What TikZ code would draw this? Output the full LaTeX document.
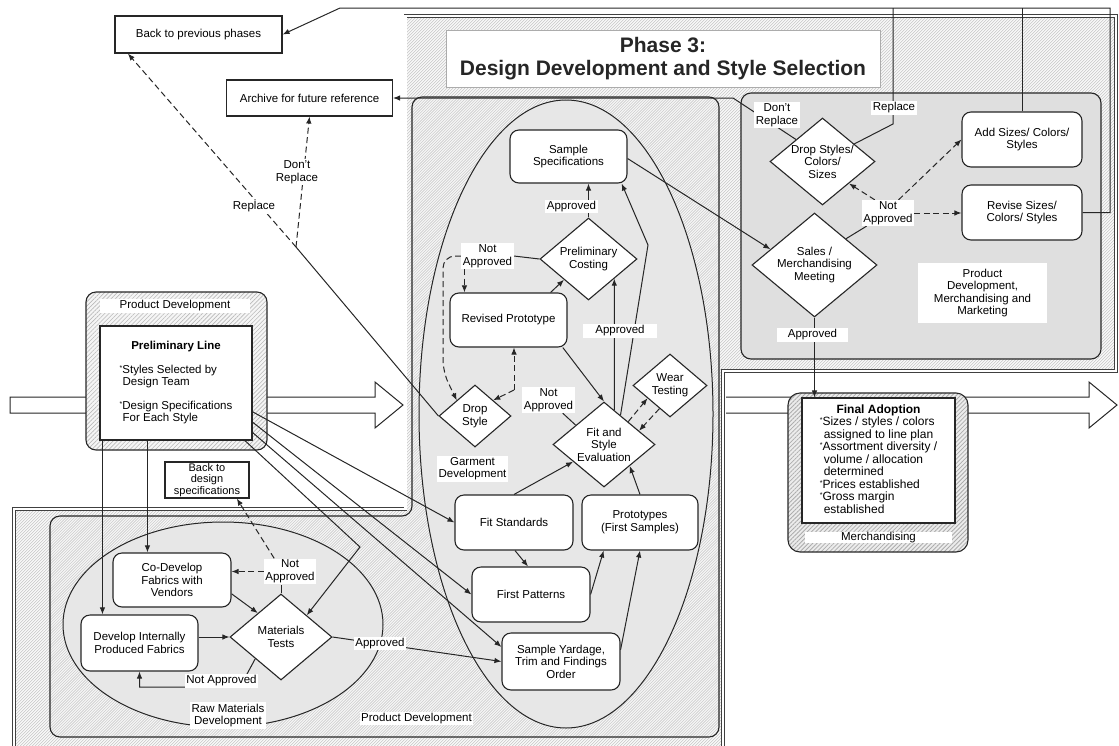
\documentclass[tikz,border=0pt]{standalone}
\usepackage{fontspec}
\setmainfont{Liberation Sans}
\usetikzlibrary{shapes.geometric,arrows.meta,calc,patterns.meta}
\pgfdeclarelayer{bg}
\pgfdeclarelayer{edges}
\pgfsetlayers{bg,edges,main}
\newcommand\lblfont{\fontsize{11.5}{12.6}\selectfont}
\newcommand\starmark{\raisebox{0.45ex}{\fontsize{7}{7}\selectfont *}}
% outlines of the two large areas
\newcommand\phaseoutline{(14,509) -- (405.5,509) -- (405.5,16) -- (1116,16) -- (1116,371)
    -- (723,371) -- (723,760) -- (14,760) -- cycle}
\newcommand\pdoutline{(50,516) -- (412,516) -- (412,97) -- (719,97) -- (719,737) -- (50,737) -- cycle}

\tikzset{
  conn/.style={line width=1pt, draw=black!85},
  arr/.style={conn, -{Latex[length=7pt,width=5.5pt]}},
  dsh/.style={dash pattern=on 6pt off 3.5pt},
  sqbox/.style={draw=black!85, line width=1.1pt, fill=white, align=center, inner sep=1pt, font=\lblfont},
  rbox/.style={sqbox, rounded corners=9pt},
  dia/.style={diamond, draw=black!85, line width=1.1pt, fill=white, inner sep=0pt},
  dtext/.style={align=center, font=\lblfont, inner sep=0pt},
  tag/.style={fill=white, inner sep=1.5pt, align=center, font=\lblfont},
  region/.style={draw=black!85, line width=1.1pt, rounded corners=10pt},
}

\begin{document}
\begin{tikzpicture}[x=1pt, y=-1pt]
\useasboundingbox (0,0) rectangle (1119,745);

% ---------------- background regions ----------------
\begin{pgfonlayer}{bg}
  % phase 3 frame with fine hatching
  \fill[gray!3] \phaseoutline;
  \begin{scope}
    \clip \phaseoutline;
    \foreach \k in {-255,...,375}
      \draw[gray!40, line width=0.7pt] (\k*3,760) -- (\k*3+760,0);
  \end{scope}
  \draw[draw=black!75, line width=0.6pt, double=white, double distance=2.2pt] \phaseoutline;
  % product development area (garment + raw materials)
  \fill[gray!6, rounded corners=10pt] \pdoutline;
  \begin{scope}
    \clip[rounded corners=10pt] \pdoutline;
    \foreach \k in {-120,...,260}
      \draw[gray!40, line width=0.6pt] (\k*2.8,760) -- (\k*2.8+760,0);
  \end{scope}
  \draw[region] \pdoutline;
  % garment development ellipse
  \draw[line width=1pt, draw=black!85, fill=gray!19] (566,414) ellipse [x radius=147, y radius=314];
  % raw materials ellipse
  \draw[line width=1pt, draw=black!85, fill=gray!19] (223,624.5) ellipse [x radius=160, y radius=102.5];
  % merchandising / marketing panel
  \draw[region, fill=gray!25] (741,93) rectangle (1101,359);
  % main flow arrows
  \draw[line width=1pt, draw=black!85, fill=white]
    (10,397) -- (375,397) -- (375,382) -- (403,405) -- (375,428) -- (375,413) -- (10,413) -- cycle;
  \draw[line width=1pt, draw=black!85, fill=white]
    (726,397) -- (1089,397) -- (1089,382) -- (1117,405) -- (1089,428) -- (1089,413) -- (726,413);
  % preliminary line frame
  \draw[region, preaction={fill=gray!8},
        preaction={pattern={Lines[angle=45,distance=3pt,line width=0.6pt]}, pattern color=gray!55}]
    (86,292) rectangle (267,450);
  % final adoption frame
  \draw[region, rounded corners=12pt, preaction={fill=gray!15},
        preaction={pattern={Lines[angle=45,distance=3pt,line width=0.8pt]}, pattern color=gray!65}]
    (788,393) rectangle (968,552);
\end{pgfonlayer}

% ---------------- title ----------------
\node[draw=gray!65, line width=0.8pt, fill=white, minimum width=434pt, minimum height=57pt,
      align=center, font={\fontsize{21}{22.5}\selectfont\bfseries}, text=black!85]
  (title) at (663,58.5) {Phase 3:\\Design Development and Style Selection};

% ---------------- boxes ----------------
\node[sqbox, minimum width=167pt, minimum height=37pt] (backprev) at (198.5,34.5) {Back to previous phases};
\node[sqbox, minimum width=166pt, minimum height=36pt] (archive) at (309.5,98) {Archive for future reference};
\node[sqbox, minimum width=84pt, minimum height=36pt, font={\fontsize{11}{11.3}\selectfont}]
  (backdesign) at (207,480) {Back to\\design\\specifications};

\node[sqbox, minimum width=152pt, minimum height=114pt, inner sep=0pt, font={\fontsize{11.5}{12.2}\selectfont}]
  (prelim) at (176,383)
  {\begin{tabular}{@{}l@{}}\multicolumn{1}{c}{\bfseries Preliminary Line}\\[12pt]
   \starmark Styles Selected by\\ \hspace{3pt}Design Team\\[12pt]
   \starmark Design Specifications\\ \hspace{3pt}For Each Style\end{tabular}};

\node[rbox, minimum width=117pt, minimum height=53pt] (samplespec) at (568.5,156.5) {Sample\\Specifications};
\node[rbox, minimum width=117pt, minimum height=54pt] (revproto) at (508.5,320) {Revised Prototype};
\node[rbox, minimum width=118pt, minimum height=55pt] (fitstd) at (514,522.5) {Fit Standards};
\node[rbox, minimum width=116pt, minimum height=55pt] (proto) at (640,522.5) {Prototypes\\(First Samples)};
\node[rbox, minimum width=118pt, minimum height=55pt] (firstpat) at (531,594.5) {First Patterns};
\node[rbox, minimum width=118pt, minimum height=57pt] (yardage) at (561,661.5) {Sample Yardage,\\Trim and Findings\\Order};
\node[rbox, minimum width=118pt, minimum height=54pt] (codev) at (172,580) {Co-Develop\\Fabrics with\\Vendors};
\node[rbox, minimum width=117pt, minimum height=56pt] (devint) at (139.5,643) {Develop Internally\\Produced Fabrics};
\node[rbox, minimum width=120pt, minimum height=55pt] (addsz) at (1022,139.5) {Add Sizes/ Colors/\\Styles};
\node[rbox, minimum width=120pt, minimum height=55pt] (revsz) at (1022,212.5) {Revise Sizes/\\Colors/ Styles};

\node[sqbox, minimum width=153pt, minimum height=125pt, inner sep=0pt, font={\fontsize{12}{12.5}\selectfont}]
  (fabox) at (878.5,460.5)
  {\begin{tabular}{@{}l@{}}\multicolumn{1}{c}{\bfseries Final Adoption}\\
   \starmark Sizes / styles / colors\\ \hspace{4pt}assigned to line plan\\
   \starmark Assortment diversity /\\ \hspace{4pt}volume / allocation\\ \hspace{4pt}determined\\
   \starmark Prices established\\ \starmark Gross margin\\ \hspace{4pt}established\end{tabular}};

% ---------------- decisions ----------------
\node[dia, minimum width=105pt, minimum height=87pt,
      label={[dtext]center:{Drop Styles/\\Colors/\\Sizes}}] (dropssc) at (822.5,161.5) {};
\node[dia, minimum width=125pt, minimum height=104pt,
      label={[dtext]center:{Sales /\\Merchandising\\Meeting}}] (sales) at (814.5,265) {};
\node[dia, minimum width=97pt, minimum height=82pt,
      label={[dtext]center:{Preliminary\\Costing}}] (prelimcost) at (588.5,259) {};
\node[dia, minimum width=72pt, minimum height=62pt,
      label={[dtext]center:{Drop\\Style}}] (dropstyle) at (475,416) {};
\node[dia, minimum width=102pt, minimum height=85pt,
      label={[dtext]center:{Fit and\\Style\\Evaluation}}] (fitstyle) at (604,444.5) {};
\node[dia, minimum width=74pt, minimum height=63pt,
      label={[dtext]center:{Wear\\Testing}}] (wear) at (670,385.5) {};
\node[dia, minimum width=102pt, minimum height=86pt,
      label={[dtext]center:{Materials\\Tests}}] (mattest) at (281,637) {};

% ---------------- labels ----------------
\node[tag] (tRep1) at (254,207) {Replace};
\node[tag] (tDR1) at (297,172) {Don't\\Replace};
\node[tag] (tDR2) at (777,115) {Don't\\Replace};
\node[tag] (tRep2) at (894,108) {Replace};
\node[tag] (tNA1) at (888,213) {Not\\Approved};
\node[tag, minimum width=71pt] (tAp1) at (812.5,335) {Approved};
\node[tag, minimum width=129pt, minimum height=60pt] (tPDMM) at (982.5,293)
  {Product\\Development,\\Merchandising and\\Marketing};
\node[tag] (tAp2) at (571.5,206.5) {Approved};
\node[tag] (tNA2) at (487.5,256) {Not\\Approved};
\node[tag, minimum width=74pt] (tAp3) at (620,331) {Approved};
\node[tag] (tNA3) at (548.5,400) {Not\\Approved};
\node[tag] (tGD) at (472.5,468.5) {Garment\\Development};
\node[tag] (tNA4) at (290,571.5) {Not\\Approved};
\node[tag] (tNA5) at (221.5,681) {Not Approved};
\node[tag] (tAp4) at (380,643.5) {Approved};
\node[tag] (tRMD) at (228,715.5) {Raw Materials\\Development};
\node[tag] (tPD1) at (416.5,718.5) {Product Development};
\node[tag, minimum width=150pt] (tPD2) at (175,306) {Product Development};
\node[tag, minimum width=147pt, inner sep=0.5pt] (tMer) at (878.5,537.5) {Merchandising};

% ---------------- junction points ----------------
\coordinate (topL) at (340,8);
\coordinate (topR) at (1110,8);
\coordinate (revR) at (1110,212.5);
\coordinate (repBend) at (893,124);
\coordinate (dRbend) at (733,98);
\coordinate (split) at (296,247);
\coordinate (naL) at (443,256);
\coordinate (naLow) at (443,372);
\coordinate (rpIn) at ($(revproto.north west)+(15,0)$);
\coordinate (fsBend) at (648,245);
\coordinate (naJ) at (514,390);
\coordinate (mtBend) at (360,547);
\coordinate (naB1) at (240,687);

% ---------------- connectors ----------------
\begin{pgfonlayer}{edges}
  % returns along the top
  \draw[arr] (revsz.east) -- (revR) -- (topR) -- (topL) -- (backprev.east);
  \draw[conn] (addsz.north) -- (addsz.north |- topR);
  \draw[conn] ($(dropssc.north)!0.6!(dropssc.east)$) -- (repBend) -- (repBend |- topR);
  \draw[arr] ($(dropssc.north)!0.5!(dropssc.west)$) -- (dRbend) -- (archive.east);
  % sales meeting
  \draw[arr] ($(samplespec.east)+(0,2)$) -- ($(sales.west)!0.3!(sales.north)$);
  \draw[conn] ($(sales.north)!0.5!(sales.east)$) -- (tNA1);
  \draw[arr,dsh] ($(tNA1.north west)!0.25!(tNA1.north east)$) -- ($(dropssc.south)!0.5!(dropssc.east)$);
  \draw[arr,dsh] ($(tNA1.north west)!0.7!(tNA1.north east)$) -- (addsz.west);
  \draw[arr,dsh] (tNA1.east) -- (revsz.west |- tNA1.east);
  \draw[arr] (sales.south) -- (sales.south |- fabox.north);
  % drop style outcomes
  \draw[conn] (dropstyle.west) -- (split);
  \draw[arr,dsh] (split) -- ($(backprev.south west)!0.08!(backprev.south east)$);
  \draw[arr,dsh] (split) -- (archive.south);
  % garment development
  \draw[arr] (prelimcost.north) -- (samplespec.south -| prelimcost.north);
  \draw[conn] (prelimcost.west) -- (tNA2.east);
  \draw[arr,dsh] (tNA2.south -| rpIn) -- (rpIn);
  \draw[arr,dsh,rounded corners=12pt] (tNA2.west) -- (naL) -- (naLow) -- ($(dropstyle.west)!0.5!(dropstyle.north)$);
  \draw[arr] ($(revproto.north east)+(-17,0)$) -- ($(prelimcost.south)!0.5!(prelimcost.west)$);
  \draw[arr] ($(fitstyle.north)!0.2!(fitstyle.east)$) -- ($(prelimcost.south)!0.526!(prelimcost.east)$);
  \draw[arr] ($(fitstyle.north)!0.32!(fitstyle.east)$) -- (fsBend) -- ($(samplespec.south east)!0.05!(samplespec.south west)$);
  \draw[arr] ($(revproto.south east)!0.04!(revproto.south west)$) -- (fitstyle.north);
  \draw[conn] ($(fitstyle.west)!0.45!(fitstyle.north)$) -- (tNA3);
  \draw[arr,dsh] (naJ) -- ($(dropstyle.north)!0.5!(dropstyle.east)$);
  \draw[arr,dsh] (naJ) -- (naJ |- revproto.south);
  \draw[arr,dsh] ($(fitstyle.north)!0.47!(fitstyle.east)$) -- ($(wear.west)!0.4!(wear.south)$);
  \draw[arr,dsh] ($(wear.west)!0.72!(wear.south)$) -- ($(fitstyle.north)!0.68!(fitstyle.east)$);
  \draw[arr] (fitstd.north) -- ($(fitstyle.west)!0.4!(fitstyle.south)$);
  \draw[arr] (proto.north) -- ($(fitstyle.south)!0.5!(fitstyle.east)$);
  \draw[arr] ($(fitstd.south)+(1,0)$) -- ($(firstpat.north)+(-3,0)$);
  \draw[arr] (firstpat.east) -- ($(proto.south west)!0.19!(proto.south east)$);
  \draw[arr] ($(yardage.north east)!0.3!(yardage.south east)$) -- (proto.south);
  % from the preliminary line
  \draw[arr] ($(prelim.north east)!0.75!(prelim.south east)$) -- (fitstd.west);
  \draw[arr] ($(prelim.north east)!0.84!(prelim.south east)$) -- (firstpat.west);
  \draw[arr] ($(prelim.north east)!0.93!(prelim.south east)$) -- ($(yardage.north west)!0.25!(yardage.south west)$);
  \draw[arr] ($(prelim.south east)!0.05!(prelim.south west)$) -- (mtBend) -- ($(mattest.north)!0.5!(mattest.east)$);
  \draw[arr] ($(prelim.south west)+(3,0)$) -- ($(devint.north west)+(22,0)$);
  \draw[arr] ($(prelim.south west)+(48,0)$) -- ($(codev.north west)+(35,0)$);
  % raw materials development
  \draw[arr] ($(codev.north east)!0.75!(codev.south east)$) -- ($(mattest.west)!0.55!(mattest.north)$);
  \draw[arr] (devint.east |- mattest.west) -- (mattest.west);
  \draw[conn] (mattest.north) -- (mattest.north |- tNA4.south);
  \draw[arr,dsh] (tNA4.west) -- (codev.east |- tNA4.west);
  \draw[arr,dsh] ($(tNA4.north west)!0.2!(tNA4.north east)$) -- ($(backdesign.south east)!0.15!(backdesign.south west)$);
  \draw[arr] ($(mattest.west)!0.5!(mattest.south)$) -- (naB1) -- (devint.south |- naB1) -- (devint.south);
  \draw[arr] (mattest.east) -- ($(yardage.north west)!0.5!(yardage.south west)$);
\end{pgfonlayer}
\end{tikzpicture}
\end{document}
